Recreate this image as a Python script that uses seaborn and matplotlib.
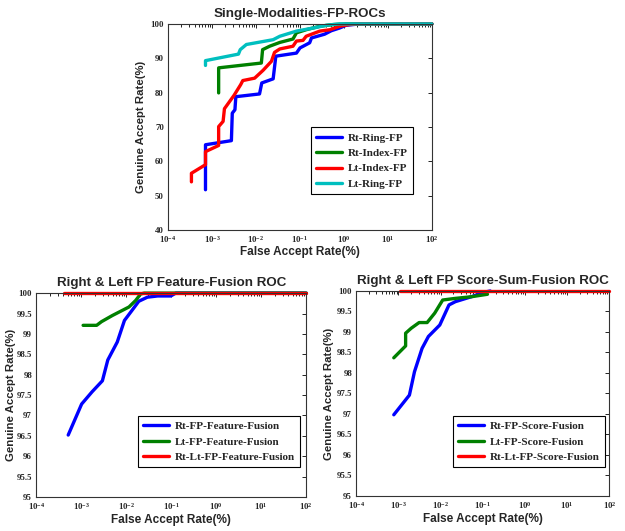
import matplotlib
matplotlib.use("Agg")
import matplotlib.pyplot as plt
import matplotlib.ticker as mticker
import seaborn as sns
import pandas as pd

# ---- data (FAR in %, GAR in %) ----
# Single modalities
rt_ring_far = [7.08e-4, 7.08e-4, 2.75e-3, 2.88e-3, 3.31e-3, 3.47e-3, 0.012, 0.0135, 0.0245, 0.0282,
               0.083, 0.1, 0.166, 0.182, 0.363, 0.513, 0.794, 1.12, 2.29, 100]
rt_ring_gar = [51.7, 64.8, 66.0, 74.0, 75.0, 78.8, 79.6, 82.8, 84.0, 90.6,
               91.5, 93.0, 94.5, 95.9, 97.0, 98.0, 98.8, 99.6, 100, 100]

rt_index_far = [1.41e-3, 1.41e-3, 0.0132, 0.0141, 0.0204, 0.0347, 0.0692, 0.083, 0.138, 0.282, 0.562, 1.12, 100]
rt_index_gar = [79.9, 87.2, 88.6, 92.5, 93.5, 94.6, 95.6, 97.4, 98.3, 99.3, 99.8, 100, 100]

lt_index_far = [3.39e-4, 3.39e-4, 7.08e-4, 7.08e-4, 1.41e-3, 1.41e-3, 1.78e-3, 1.91e-3, 3.16e-3, 4.47e-3,
                5.0e-3, 9.3e-3, 0.0145, 0.0224, 0.0263, 0.0347, 0.0692, 0.083, 0.117, 0.138,
                0.282, 0.479, 0.794, 1.32, 2.29, 100]
lt_index_gar = [54.0, 56.5, 59.0, 62.8, 64.6, 70.1, 71.6, 75.3, 79.2, 82.3,
                83.5, 84.2, 86.5, 89.1, 91.7, 92.7, 93.5, 95.0, 95.2, 96.4,
                97.9, 98.3, 99.3, 99.8, 100, 100]

lt_ring_far = [7.08e-4, 7.08e-4, 3.98e-3, 4.37e-3, 6.03e-3, 0.0245, 0.0347, 0.083, 0.2, 0.398, 0.794, 100]
lt_ring_gar = [87.9, 89.3, 91.2, 92.5, 94.0, 95.4, 96.4, 97.9, 98.8, 99.6, 100, 100]

# Feature fusion
ff_rt_far = [5.13e-4, 1.02e-3, 1.74e-3, 2.95e-3, 3.89e-3, 6.31e-3, 9.12e-3, 0.0135, 0.019, 0.0295,
             0.05, 0.0977, 0.126, 100]
ff_rt_gar = [96.52, 97.28, 97.58, 97.85, 98.36, 98.80, 99.33, 99.58, 99.80, 99.90,
             99.93, 99.93, 100, 100]
ff_lt_far = [1.1e-3, 2.2e-3, 2.82e-3, 4.9e-3, 0.0115, 0.0162, 0.0209, 0.0251, 100]
ff_lt_gar = [99.21, 99.21, 99.30, 99.45, 99.66, 99.82, 99.98, 100, 100]
ff_rtlt_far = [4.1e-4, 100]
ff_rtlt_gar = [100, 100]

# Score-sum fusion
ss_rt_far = [7.76e-4, 1.82e-3, 2.4e-3, 3.63e-3, 5.13e-3, 9.55e-3, 0.0158, 0.0224, 0.0537, 0.107, 0.15]
ss_rt_gar = [96.98, 97.46, 98.03, 98.60, 98.89, 99.17, 99.66, 99.74, 99.86, 99.97, 100]
ss_lt_far = [7.76e-4, 1.48e-3, 1.48e-3, 2.0e-3, 3.09e-3, 4.79e-3, 7.24e-3, 0.0112, 0.0224, 0.0537, 0.129]
ss_lt_gar = [98.37, 98.66, 98.97, 99.09, 99.23, 99.23, 99.46, 99.78, 99.82, 99.86, 99.92]
ss_rtlt_far = [1.1e-3, 100]
ss_rtlt_gar = [100, 100]


def make_df(series):
    rows = []
    for name, far, gar in series:
        for f, g in zip(far, gar):
            rows.append({"Method": name, "FAR": f, "GAR": g})
    return pd.DataFrame(rows)


sns.set_style("white")
plt.rcParams["mathtext.fontset"] = "custom"
plt.rcParams["mathtext.rm"] = "Liberation Serif:bold"
plt.rcParams["mathtext.it"] = "Liberation Serif:italic:bold"
plt.rcParams["mathtext.bf"] = "Liberation Serif:bold"
plt.rcParams["font.family"] = ["Liberation Sans", "DejaVu Sans"]

legend_font = {"family": "Liberation Serif", "weight": "bold", "size": 8}

fig = plt.figure(figsize=(6.25, 5.31), dpi=100)
ax_top = fig.add_axes([0.269, 0.567, 0.422, 0.388])
ax_bl = fig.add_axes([0.058, 0.064, 0.432, 0.384])
ax_br = fig.add_axes([0.570, 0.066, 0.405, 0.386])

panels = [
    (ax_top, "Single-Modalities-FP-ROCs",
     [("Rt-Ring-FP", rt_ring_far, rt_ring_gar),
      ("Rt-Index-FP", rt_index_far, rt_index_gar),
      ("Lt-Index-FP", lt_index_far, lt_index_gar),
      ("Lt-Ring-FP", lt_ring_far, lt_ring_gar)],
     ["#0000ff", "#008000", "#ff0000", "#00bfbf"],
     (40, 100), list(range(40, 101, 10)), (0.52, 0.146), 3),
    (ax_bl, "Right & Left FP Feature-Fusion ROC",
     [("Rt-FP-Feature-Fusion", ff_rt_far, ff_rt_gar),
      ("Lt-FP-Feature-Fusion", ff_lt_far, ff_lt_gar),
      ("Rt-Lt-FP-Feature-Fusion", ff_rtlt_far, ff_rtlt_gar)],
     ["#0000ff", "#008000", "#ff0000"],
     (95, 100), [95 + 0.5 * i for i in range(11)], (0.356, 0.118), 0.5),
    (ax_br, "Right & Left FP Score-Sum-Fusion ROC",
     [("Rt-FP-Score-Fusion", ss_rt_far, ss_rt_gar),
      ("Lt-FP-Score-Fusion", ss_lt_far, ss_lt_gar),
      ("Rt-Lt-FP-Score-Fusion", ss_rtlt_far, ss_rtlt_gar)],
     ["#0000ff", "#008000", "#ff0000"],
     (95, 100), [95 + 0.5 * i for i in range(11)], (0.36, 0.112), 1.5),
]

for ax, title, series, colors, ylim, yticks, leg_anchor, ypad in panels:
    df = make_df(series)
    sns.lineplot(data=df, x="FAR", y="GAR", hue="Method", palette=colors,
                 estimator=None, sort=False, linewidth=2.4, ax=ax, clip_on=False)
    ax.set_xscale("log")
    ax.set_xlim(1e-4, 1e2)
    ax.set_ylim(*ylim)
    ax.set_xticks([1e-4, 1e-3, 1e-2, 1e-1, 1e0, 1e1, 1e2])
    ax.xaxis.set_major_formatter(mticker.LogFormatterMathtext())
    ax.set_yticks(yticks)
    ax.yaxis.set_major_formatter(mticker.FuncFormatter(lambda v, p: "%g" % v))
    ax.tick_params(axis="both", which="both", direction="in", top=True, right=True,
                   length=3, width=0.6, color="black", pad=3)
    ax.tick_params(axis="both", which="minor", length=1.8)
    for lab in ax.get_xticklabels() + ax.get_yticklabels():
        lab.set_fontfamily("Liberation Serif")
        lab.set_fontweight("bold")
        lab.set_fontsize(6.3)
    for s in ax.spines.values():
        s.set_color("#333333")
        s.set_linewidth(0.8)
    ax.set_title(title, fontsize=9.6, fontweight="bold", pad=5)
    ax.set_xlabel("False Accept Rate(%)", fontsize=8.5, fontweight="bold", labelpad=1)
    ax.set_ylabel("Genuine Accept Rate(%)", fontsize=8.2, fontweight="bold", labelpad=ypad)
    ax.get_legend().remove()
    handles, labels = ax.get_legend_handles_labels()
    leg = ax.legend(handles, labels, loc="lower left", bbox_to_anchor=leg_anchor,
                    prop=legend_font, frameon=True, fancybox=False, edgecolor="black",
                    framealpha=1, handlelength=2.3, borderpad=0.5, labelspacing=0.5,
                    handletextpad=0.5)
    leg.get_frame().set_linewidth(0.8)
    for line in leg.get_lines():
        line.set_linewidth(2.4)

plt.savefig("out.png", dpi=100)
